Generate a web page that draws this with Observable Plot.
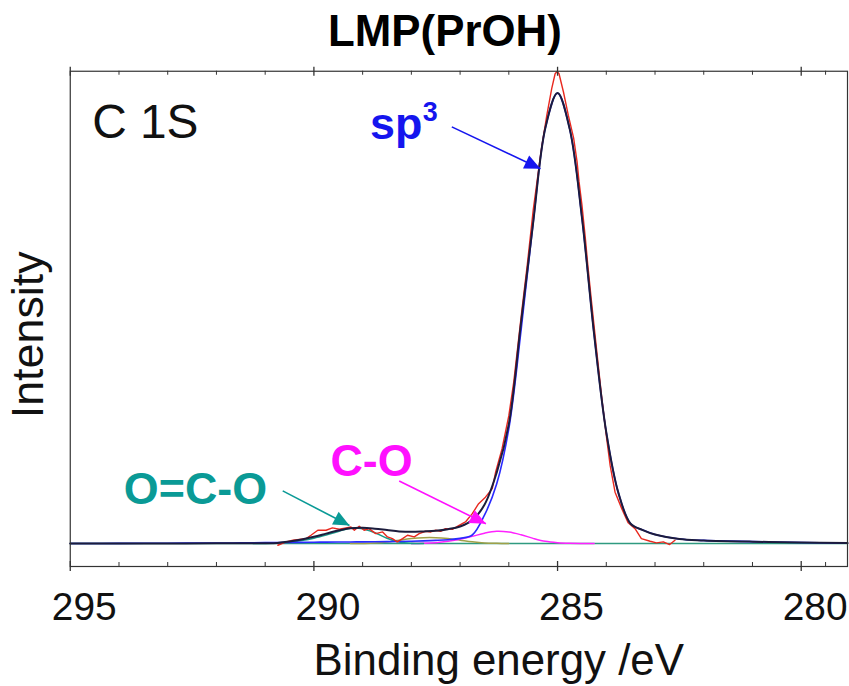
<!DOCTYPE html>
<html><head><meta charset="utf-8">
<script src="https://cdn.jsdelivr.net/npm/d3@7"></script>
<script src="https://cdn.jsdelivr.net/npm/@observablehq/plot@0.6"></script>
<style>
html,body{margin:0;padding:0;background:#fff;overflow:hidden;}
</style></head><body><div id="chart"></div>
<script>
// ---- text ----
const chartTitle = "LMP(PrOH)";
const xLabel = "Binding energy /eV";
const yLabel = "Intensity";
const panelLabel = "C 1S";

// ---- axis ticks ----
const majorTicks = [295, 290, 285, 280];
const tickLabels = ["295", "290", "285", "280"];
const minorTicks = [294, 293, 292, 291, 289, 288, 287, 286, 284, 283, 282, 281, 279.5];

// ---- fitted curves (binding energy eV, intensity a.u.) ----
const fitBE = [295, 294, 293, 292, 291.5, 291, 290.75, 290.5, 290.25, 290, 289.75, 289.5, 289.25, 289, 288.75, 288.5, 288.25, 288, 287.75, 287.5, 287.25, 287, 286.75, 286.5, 286.25, 286, 285.75, 285.5, 285.25, 285, 284.75, 284.5, 284.25, 284, 283.75, 283.5, 283.25, 283, 282.5, 282, 281, 280, 279.05];
const envelope = [0, 0, 0.03, 0.05, 0.05, 0.08, 0.15, 0.45, 0.9, 1.5, 2.2, 2.9, 3.4, 3.5, 3.3, 3.0, 2.7, 2.6, 2.7, 2.85, 3.2, 3.8, 5.2, 8.6, 15.7, 26.5, 49, 71.3, 92.3, 100, 92, 72.4, 46.5, 24.7, 11.2, 4.4, 3.0, 2.0, 1.0, 0.7, 0.42, 0.25, 0.1];
const sp3 = [0, 0.05, 0.08, 0.12, 0.15, 0.2, 0.22, 0.25, 0.27, 0.3, 0.32, 0.34, 0.36, 0.38, 0.4, 0.43, 0.47, 0.52, 0.6, 0.7, 0.85, 1.15, 1.9, 6.3, 13.2, 25.5, 47.2, 71.3, 92.3, 100, 92, 72.4, 46.5, 24.7, 11.2, 4.4, 3.0, 2.0, 1.0, 0.7, 0.42, 0.25, 0.1];

const coBE = [288, 287.75, 287.5, 287.25, 287, 286.75, 286.5, 286.25, 286, 285.75, 285.5, 285.25, 285, 284.75, 284.5, 284.25];
const coI = [0, 0.05, 0.2, 0.5, 0.95, 1.6, 2.3, 2.72, 2.55, 1.95, 1.15, 0.5, 0.2, 0.07, 0.02, 0];

const ocoBE = [291.25, 291, 290.75, 290.5, 290.25, 290, 289.75, 289.5, 289.25, 289, 288.75, 288.5, 288.25, 288, 287.75];
const ocoI = [0, 0.05, 0.15, 0.35, 0.7, 1.2, 1.9, 2.7, 3.4, 3.3, 2.4, 1.2, 0.35, 0.05, 0];

const otherBE = [289.25, 289, 288.75, 288.5, 288.25, 288, 287.75, 287.5, 287.25, 287, 286.75, 286.5, 286.25, 286];
const otherI = [0, 0.02, 0.1, 0.35, 0.75, 1.1, 1.3, 1.3, 1.1, 0.75, 0.4, 0.15, 0.05, 0];

// ---- measured spectrum ----
const rawBE = [290.74, 290.57, 290.43, 290.26, 290.16, 290.06, 289.92, 289.75, 289.62, 289.48, 289.34, 289.24, 289.17, 289.07, 288.97, 288.87, 288.73, 288.59, 288.49, 288.39, 288.29, 288.18, 288.08, 287.94, 287.84, 287.71, 287.60, 287.50, 287.40, 287.30, 287.16, 287.02, 286.89, 286.75, 286.62, 286.48, 286.34, 286.27, 286.14, 286.00, 285.90, 285.80, 285.73, 285.62, 285.50, 285.33, 285.22, 285.12, 285.05, 285.01, 284.97, 284.88, 284.78, 284.67, 284.60, 284.56, 284.50, 284.43, 284.38, 284.31, 284.20, 284.09, 283.99, 283.92, 283.82, 283.68, 283.55, 283.41, 283.28, 283.10, 282.97, 282.83, 282.70, 282.59];
const rawI = [-0.37, 0.37, 0.74, 0.96, 1.1, 1.84, 2.95, 2.95, 3.47, 3.17, 3.47, 3.69, 2.95, 3.83, 2.95, 3.32, 2.21, 2.58, 1.47, 1.1, 0.37, 1.1, 1.84, 1.47, 2.21, 2.73, 2.58, 2.95, 2.73, 3.32, 3.17, 4.05, 4.79, 6.64, 8.85, 10.3, 12.2, 15.9, 21.0, 28.4, 35.8, 45.3, 52.0, 62, 74, 87.7, 95.1, 101.0, 104.3, 104.8, 104.3, 100.3, 95.1, 90.0, 84.8, 80.4, 75.2, 67.8, 61.9, 54.4, 43.1, 32.1, 23.2, 17.3, 11.4, 7.7, 4.6, 3.3, 1.1, 0.52, 0.15, 0.37, -0.22, 0.74];

// ---- annotations (data units) ----
const annotText = ["sp", "C-O", "O=C-O"];
const annotSup = ["3", "", ""];
const annotBE = [288.85, 289.66, 293.9];
const annotI = [89.8, 15.0, 8.85];
const arrowFromBE = [287.17, 288.25, 290.64];
const arrowFromI = [92.5, 13.9, 11.7];
const arrowToBE = [285.35, 286.47, 289.27];
const arrowToI = [83.2, 4.4, 4.0];
const panelBE = [294.55];
const panelI = [90.0];

// ---- build tables ----
const fit = fitBE.map((be, i) => ({be, env: envelope[i], sp3: sp3[i]}));
const coData = coBE.map((be, i) => ({be, v: coI[i]}));
const ocoData = ocoBE.map((be, i) => ({be, v: ocoI[i]}));
const otherData = otherBE.map((be, i) => ({be, v: otherI[i]}));
const raw = rawBE.map((be, i) => ({be, v: rawI[i]}));
const annots = annotText.map((t, i) => ({t, sup: annotSup[i], x: annotBE[i], y: annotI[i], x1: arrowFromBE[i], y1: arrowFromI[i], x2: arrowToBE[i], y2: arrowToI[i]}));

const W = 852, H = 686, ML = 70, MR = 2, MT = 71, MB = 118;
const xDomain = [295, 279.05];
const yDomain = [-5.09, 104.85];
const frameH = H - MT - MB;
const px = d3.scaleLinear(xDomain, [ML, W - MR]);
const py = d3.scaleLinear(yDomain, [H - MB, MT]);
annots.forEach(a => {
  const dx = px(a.x2) - px(a.x1), dy = py(a.y2) - py(a.y1);
  a.angle = Math.atan2(dx, -dy) * 180 / Math.PI;
});

const headSymbol = {
  draw(ctx, size) {
    const r = Math.sqrt(size / Math.PI);
    const L = 2 * r, w = 0.45 * L;
    ctx.moveTo(0, 0);
    ctx.lineTo(-w, L);
    ctx.lineTo(w, L);
    ctx.closePath();
  }
};

const annotColors = ["#1515ee", "#ff10ff", "#0a9a96"];
const annotSizes = [45, 45, 45];

const annotMarks = annots.flatMap((a, i) => [
  Plot.link([a], {x1: "x1", y1: "y1", x2: "x2", y2: "y2", stroke: annotColors[i], strokeWidth: 1.6}),
  Plot.dot([a], {x: "x2", y: "y2", symbol: headSymbol, r: 8, rotate: "angle", fill: annotColors[i], stroke: "none"}),
  Plot.text([a], {x: "x", y: "y", text: "t", fill: annotColors[i], fontSize: annotSizes[i], fontWeight: "bold", textAnchor: "start", lineAnchor: "bottom"}),
  Plot.text([a], {x: "x", y: "y", text: "sup", fill: annotColors[i], fontSize: 27, fontWeight: "bold", textAnchor: "start", lineAnchor: "bottom", dx: 53, dy: -18})
]);

const chart = Plot.plot({
  width: W, height: H,
  marginLeft: ML, marginRight: MR, marginTop: MT, marginBottom: MB,
  x: {domain: xDomain, axis: null},
  y: {domain: yDomain, axis: null},
  style: {fontFamily: "'Liberation Sans', Arial, sans-serif", background: "white", overflow: "visible"},
  marks: [
    Plot.ruleY([0], {stroke: "#2f9a80", strokeWidth: 1.5}),
    Plot.line(otherData, {x: "be", y: "v", stroke: "#a0a048", strokeWidth: 1.5, curve: "catmull-rom"}),
    Plot.line(coData, {x: "be", y: "v", stroke: "#ff22ff", strokeWidth: 1.5, curve: "catmull-rom"}),
    Plot.line(ocoData, {x: "be", y: "v", stroke: "#1a9a8a", strokeWidth: 1.6, curve: "catmull-rom"}),
    Plot.line(fit, {x: "be", y: "sp3", stroke: "#2a2aff", strokeWidth: 1.6, curve: "catmull-rom"}),
    Plot.line(raw, {x: "be", y: "v", stroke: "#e8281e", strokeWidth: 1.4}),
    Plot.line(fit, {x: "be", y: "env", stroke: "#1c1c3c", strokeWidth: 2, curve: "catmull-rom"}),
    // ticks (inside), top and bottom
    Plot.ruleX(minorTicks, {stroke: "#333", insetBottom: frameH - 4}),
    Plot.ruleX(majorTicks, {stroke: "#333", strokeWidth: 1.3, insetTop: -4, insetBottom: frameH - 5}),
    Plot.ruleX(minorTicks, {stroke: "#333", insetTop: frameH - 4}),
    Plot.ruleX(majorTicks, {stroke: "#333", strokeWidth: 1.3, insetTop: frameH - 5, insetBottom: -5}),
    Plot.frame({stroke: "#333", strokeWidth: 1.2}),
    // tick labels
    Plot.text(majorTicks, {x: d => d, text: (d, i) => tickLabels[i], frameAnchor: "bottom", dy: 54, dx: 14, lineAnchor: "bottom", fontSize: 39, fill: "#111"}),
    // axis titles
    Plot.text([xLabel], {text: d => d, frameAnchor: "bottom", dx: 40, dy: 109, lineAnchor: "bottom", textAnchor: "middle", fontSize: 44, fill: "#111"}),
    Plot.text([yLabel], {text: d => d, frameAnchor: "left", rotate: -90, dx: -27, dy: 16, lineAnchor: "bottom", textAnchor: "middle", fontSize: 45, fill: "#111"}),
    Plot.text([chartTitle], {text: d => d, frameAnchor: "top", dx: -14, dy: -25, lineAnchor: "bottom", textAnchor: "middle", fontSize: 44, fontWeight: "bold", fill: "#000"}),
    Plot.text([panelLabel], {x: () => panelBE[0], y: () => panelI[0], text: d => d, textAnchor: "start", lineAnchor: "bottom", fontSize: 48, fill: "#111"}),
    ...annotMarks
  ]
});
document.getElementById("chart").appendChild(chart);
</script>
</body></html>
